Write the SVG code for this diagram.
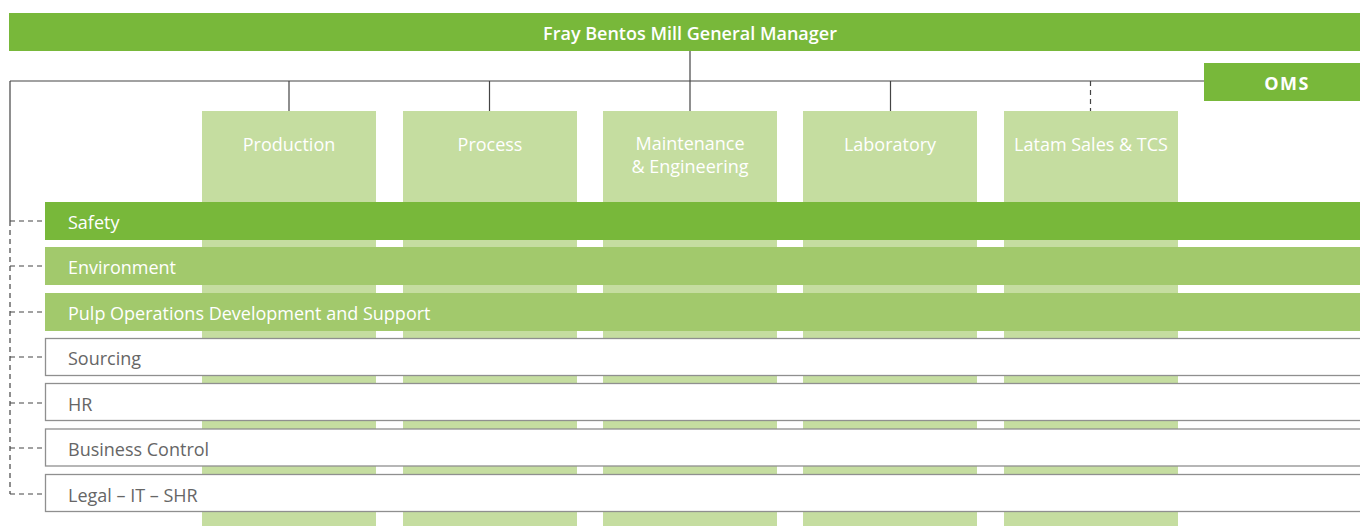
<svg xmlns="http://www.w3.org/2000/svg" width="1360" height="526" viewBox="0 0 1360 526">
  <style>
    .t { font-family: "Open Sans", "Noto Sans", "Liberation Sans", sans-serif; font-size: 18px; }
    .w { fill: #ffffff; }
    .g { fill: #666666; }
    .col { fill: #c5dda0; }
    .dark { fill: #78b83a; }
    .mid { fill: #a2c96c; }
    .out { fill: #ffffff; stroke: #8f8f8f; stroke-width: 1.3; }
    .ln { stroke: #444444; stroke-width: 1.2; fill: none; }
    .dl { stroke: #444444; stroke-width: 1.2; fill: none; stroke-dasharray: 5 4; }
  </style>

  <rect width="1360" height="526" fill="#ffffff"/>

  <!-- general manager -->
  <g id="gm">
    <rect class="dark" x="9" y="13" width="1351" height="38"/>
    <text class="t w" x="690" y="40" text-anchor="middle" font-weight="600" font-size="21">Fray Bentos Mill General Manager</text>
  </g>

  <!-- connectors -->
  <g id="connectors">
    <path class="ln" d="M690 51 V111"/>
    <path class="ln" d="M10 81 H1204"/>
    <path class="ln" d="M289 81 V111 M489.5 81 V111 M890.5 81 V111"/>
    <path class="dl" d="M1090.5 81 V111"/>
    <path class="ln" d="M10 81 V221"/>
    <path class="dl" d="M10 221 V494"/>
    <path class="dl" d="M10 221 H45 M10 266 H45 M10 312 H45 M10 357 H45 M10 403 H45 M10 448 H45 M10 494 H45"/>
  </g>

  <!-- OMS -->
  <g id="oms">
    <rect class="dark" x="1204" y="63" width="156" height="38"/>
    <text class="t w" x="1287" y="90" text-anchor="middle" font-weight="700" font-size="20" letter-spacing="1.5">OMS</text>
  </g>

  <!-- departments (columns) -->
  <g id="production">
    <rect class="col" x="202" y="111" width="174" height="415"/>
    <text class="t w" x="289" y="151" text-anchor="middle">Production</text>
  </g>
  <g id="process">
    <rect class="col" x="403" y="111" width="174" height="415"/>
    <text class="t w" x="490" y="151" text-anchor="middle">Process</text>
  </g>
  <g id="maintenance">
    <rect class="col" x="603" y="111" width="174" height="415"/>
    <text class="t w" x="690" y="150" text-anchor="middle" font-size="17">Maintenance</text>
    <text class="t w" x="690" y="173" text-anchor="middle" font-size="17">&amp; Engineering</text>
  </g>
  <g id="laboratory">
    <rect class="col" x="803" y="111" width="174" height="415"/>
    <text class="t w" x="890" y="151" text-anchor="middle">Laboratory</text>
  </g>
  <g id="latam">
    <rect class="col" x="1004" y="111" width="174" height="415"/>
    <text class="t w" x="1091" y="151" text-anchor="middle">Latam Sales &amp; TCS</text>
  </g>

  <!-- cross-functional areas (rows) -->
  <g id="safety">
    <rect class="dark" x="45" y="202" width="1315" height="38"/>
    <text class="t w" x="68" y="229">Safety</text>
  </g>
  <g id="environment">
    <rect class="mid" x="45" y="247" width="1315" height="38"/>
    <text class="t w" x="68" y="274">Environment</text>
  </g>
  <g id="pulp">
    <rect class="mid" x="45" y="293" width="1315" height="38"/>
    <text class="t w" x="68" y="320">Pulp Operations Development and Support</text>
  </g>
  <g id="sourcing">
    <rect class="out" x="45.5" y="338.5" width="1316" height="37"/>
    <text class="t g" x="68" y="365">Sourcing</text>
  </g>
  <g id="hr">
    <rect class="out" x="45.5" y="383.5" width="1316" height="37"/>
    <text class="t g" x="68" y="411">HR</text>
  </g>
  <g id="business">
    <rect class="out" x="45.5" y="429" width="1316" height="37"/>
    <text class="t g" x="68" y="456">Business Control</text>
  </g>
  <g id="legal">
    <rect class="out" x="45.5" y="474.5" width="1316" height="37"/>
    <text class="t g" x="68" y="502">Legal – IT – SHR</text>
  </g>
</svg>
